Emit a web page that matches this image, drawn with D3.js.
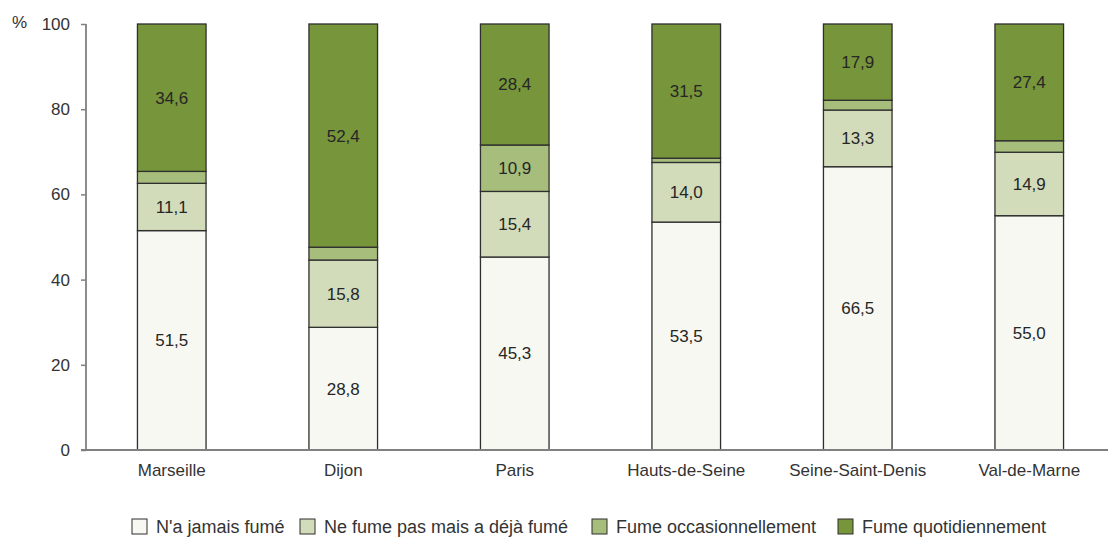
<!DOCTYPE html>
<html><head><meta charset="utf-8">
<script src="https://cdn.jsdelivr.net/npm/d3@7"></script>
<style>body{margin:0;background:#fff}svg{display:block;font-family:"Liberation Sans",Arial,sans-serif}</style>
</head><body><svg id="c" width="1108" height="541"></svg>
<script>
const categories = ["Marseille","Dijon","Paris","Hauts-de-Seine","Seine-Saint-Denis","Val-de-Marne"];
const seriesNames = ["N'a jamais fumé","Ne fume pas mais a déjà fumé","Fume occasionnellement","Fume quotidiennement"];
const jamais = [51.5, 28.8, 45.3, 53.5, 66.5, 55.0];
const dejaFume = [11.1, 15.8, 15.4, 14.0, 13.3, 14.9];
const occasion = [2.8, 3.0, 10.9, 1.0, 2.3, 2.7];
const quotidien = [34.6, 52.4, 28.4, 31.5, 17.9, 27.4];
const labelOcc = [false, false, true, false, false, false];
const yTicks = [0, 20, 40, 60, 80, 100];
const colors = ["#f7f8f2", "#d2dcba", "#a7bd7c", "#77953a"];

const series = [jamais, dejaFume, occasion, quotidien];
const svg = d3.select("#c");
const x = d3.scaleBand().domain(categories).range([86, 1115]).paddingInner(0.6).paddingOuter(0.3);
const y = d3.scaleLinear().domain([0, 100]).range([450, 24]);
const fmt = v => v.toFixed(1).replace(".", ",");

const rows = categories.map((c, i) => {
  const o = {cat: c};
  series.forEach((s, k) => o["s" + k] = s[i]);
  return o;
});
const stack = d3.stack().keys(["s0","s1","s2","s3"])(rows);

stack.forEach((layer, k) => {
  const g = svg.append("g");
  g.selectAll("rect").data(layer).join("rect")
    .attr("x", d => x(d.data.cat))
    .attr("width", x.bandwidth())
    .attr("y", d => y(d[1]))
    .attr("height", d => y(d[0]) - y(d[1]))
    .attr("fill", colors[k])
    .attr("stroke", "#2f2f2f").attr("stroke-width", 1.3);
  g.selectAll("text").data(layer.filter((d, i) => k !== 2 || labelOcc[i])).join("text")
    .attr("x", d => x(d.data.cat) + x.bandwidth() / 2)
    .attr("y", d => (y(d[0]) + y(d[1])) / 2)
    .attr("dy", "0.35em")
    .attr("text-anchor", "middle")
    .attr("font-size", 17)
    .attr("fill", "#262626")
    .text(d => fmt(d[1] - d[0]));
});

// axes
const ya = svg.append("g").attr("transform", "translate(86,0)")
  .call(d3.axisLeft(y).tickValues(yTicks).tickSize(5).tickPadding(11).tickFormat(d3.format("d")));
ya.attr("font-size", 17).attr("font-family", "Liberation Sans, Arial, sans-serif");
ya.select(".domain").attr("stroke", "#808080").attr("stroke-width", 1.8).attr("d", "M0," + y(100) + "V" + y(0));
ya.selectAll(".tick line").attr("stroke", "#808080").attr("stroke-width", 1.5);
ya.selectAll(".tick text").attr("font-size", 17).attr("fill", "#333");

svg.append("line").attr("x1", 81).attr("x2", 1108).attr("y1", y(0)).attr("y2", y(0))
  .attr("stroke", "#808080").attr("stroke-width", 1.8);
svg.selectAll(".xl").data(categories).join("text").attr("class", "xl")
  .attr("x", d => x(d) + x.bandwidth() / 2).attr("y", 476)
  .attr("text-anchor", "middle").attr("font-size", 17).attr("fill", "#333").text(d => d);

svg.append("text").attr("x", 12).attr("y", 28).attr("font-size", 17).attr("fill", "#333").text("%");

// legend
const legX = [132, 300, 592, 838];
const lg = svg.selectAll(".lg").data(seriesNames).join("g").attr("class", "lg")
  .attr("transform", (d, i) => `translate(${legX[i]},519)`);
lg.append("rect").attr("width", 15).attr("height", 15).attr("fill", (d, i) => colors[i])
  .attr("stroke", "#2f2f2f").attr("stroke-width", 1);
lg.append("text").attr("x", 24).attr("y", 14).attr("font-size", 18).attr("fill", "#333").text(d => d);
</script></body></html>
